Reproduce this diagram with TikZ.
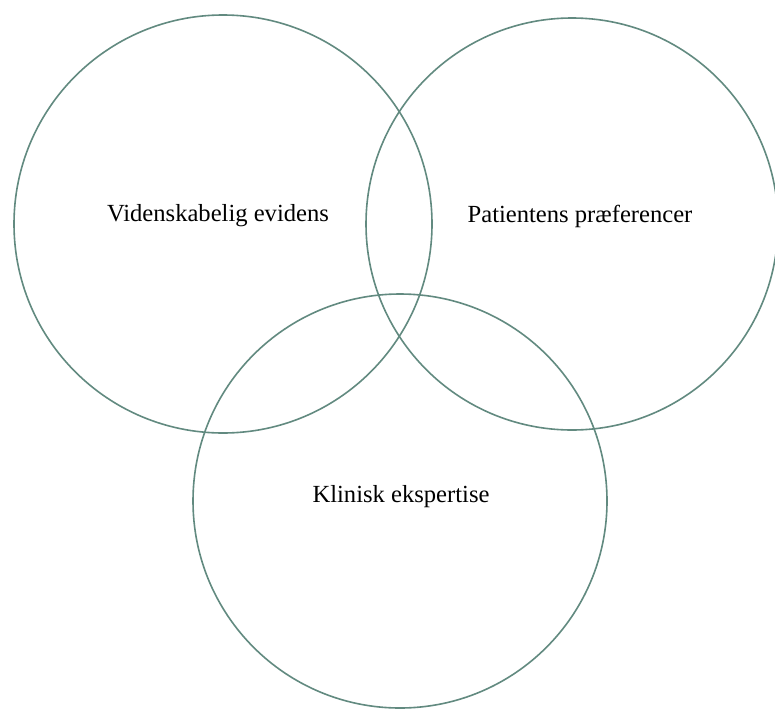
\documentclass[tikz,border=0pt]{standalone}
\usepackage{fontspec}
\setmainfont{Liberation Serif}
\definecolor{ringcol}{RGB}{98,138,128}
\begin{document}
\begin{tikzpicture}[x=1pt,y=-1pt,
  ring/.style={circle,draw=ringcol,line width=1.6pt,inner sep=0pt},
  lbl/.style={font=\fontsize{24.6}{28}\selectfont,text=black,inner sep=0pt}]
\useasboundingbox[fill=white] (0,0) rectangle (775,709);
\node[ring,minimum size=418pt] (c1) at (223,224) {};
\node[ring,minimum size=412pt] (c2) at (572,224) {};
\node[ring,minimum size=414pt] (c3) at (400,501) {};
\node[lbl] (t1) at (218,216) {Videnskabelig evidens};
\node[lbl] (t2) at (580,216) {Patientens præferencer};
\node[lbl] (t3) at (401,497) {Klinisk ekspertise};
\end{tikzpicture}
\end{document}
